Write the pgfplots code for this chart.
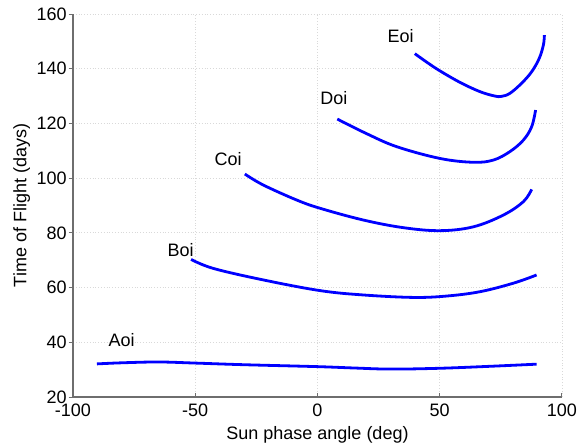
\documentclass[border=0pt]{standalone}
\usepackage{pgfplots}
\pgfplotsset{compat=1.18}
\usepackage{fontspec}
\setmainfont{Liberation Sans}
\definecolor{axgray}{RGB}{110,110,110}
\begin{document}
\fontsize{9}{10.5}\selectfont
\begin{tikzpicture}
\useasboundingbox (-36.5pt,-24.5pt) rectangle (256pt,198.5pt);
\begin{axis}[
  at={(0,0)}, anchor=south west,
  scale only axis, width=244.5pt, height=191.5pt,
  xmin=-100, xmax=100, ymin=20, ymax=160,
  xtick={-100,-50,0,50,100}, ytick={20,40,...,160},
  axis x line*=bottom, axis y line*=left,
  axis line style={axgray, line width=0.6pt},
  tick align=inside, major tick length=2.2pt,
  tick style={axgray, line width=0.5pt},
  y tick style={xshift=-2.2pt},
  grid=major, grid style={densely dotted, gray!30, line width=0.4pt},
  xlabel={Sun phase angle (deg)}, ylabel={Time of Flight (days)},
  xticklabel style={yshift=-0.5pt},
  xlabel style={yshift=1.5pt},
  ylabel style={yshift=-3pt},
  /pgf/number format/assume math mode=true,
  ticklabel style={font=\fontsize{9}{10.5}\selectfont},
  label style={font=\fontsize{9}{10.5}\selectfont},
  clip=false,
]
\addplot[blue, line width=1.4pt, smooth, tension=0.6] coordinates {
(-90.2,32.1) (-80,32.5) (-65,32.8) (-50,32.4) (-30,31.8) (0,31.1) (15,30.6) (30,30.2) (50,30.5) (70,31.2) (89.6,32.0)};
\addplot[blue, line width=1.4pt, smooth, tension=0.6] coordinates {
(-51.7,70.3) (-42.6,67.0) (-22.2,62.8) (1.0,58.9) (18.7,57.3) (39.2,56.4) (52.8,56.9) (66.5,58.5) (80.1,61.6) (89.6,64.6)};
\addplot[blue, line width=1.4pt, smooth, tension=0.6] coordinates {
(-29.7,101.5) (-22.2,97.5) (-8.5,92.0) (1.0,89.0) (18.7,84.7) (35.1,81.9) (50.1,80.8) (63.7,82.2) (76.0,86.5) (84.2,91.4) (87.6,95.9)};
\addplot[blue, line width=1.4pt, smooth, tension=0.6] coordinates {
(8.1,121.6) (20,116.3) (32.4,111.5) (50.1,107.2) (63.7,105.8) (71.9,106.6) (78.7,109.7) (84.2,113.9) (87.6,118.8) (89.2,124.9)};
\addplot[blue, line width=1.4pt, smooth, tension=0.6] coordinates {
(39.8,145.5) (45,142.2) (50.1,139.2) (58.3,135.0) (66.5,131.6) (72.6,130.0) (75.3,129.9) (78.7,131.0) (83.5,134.7) (87.6,138.9) (90.7,143.8) (92.4,148.7) (92.8,152.3)};
\node at (axis cs:-80.1,40.8) {Aoi};
\node at (axis cs:-56,73.7) {Boi};
\node at (axis cs:-36.6,107) {Coi};
\node at (axis cs:6.7,129.4) {Doi};
\node at (axis cs:34,151.9) {Eoi};
\end{axis}
\end{tikzpicture}
\end{document}
